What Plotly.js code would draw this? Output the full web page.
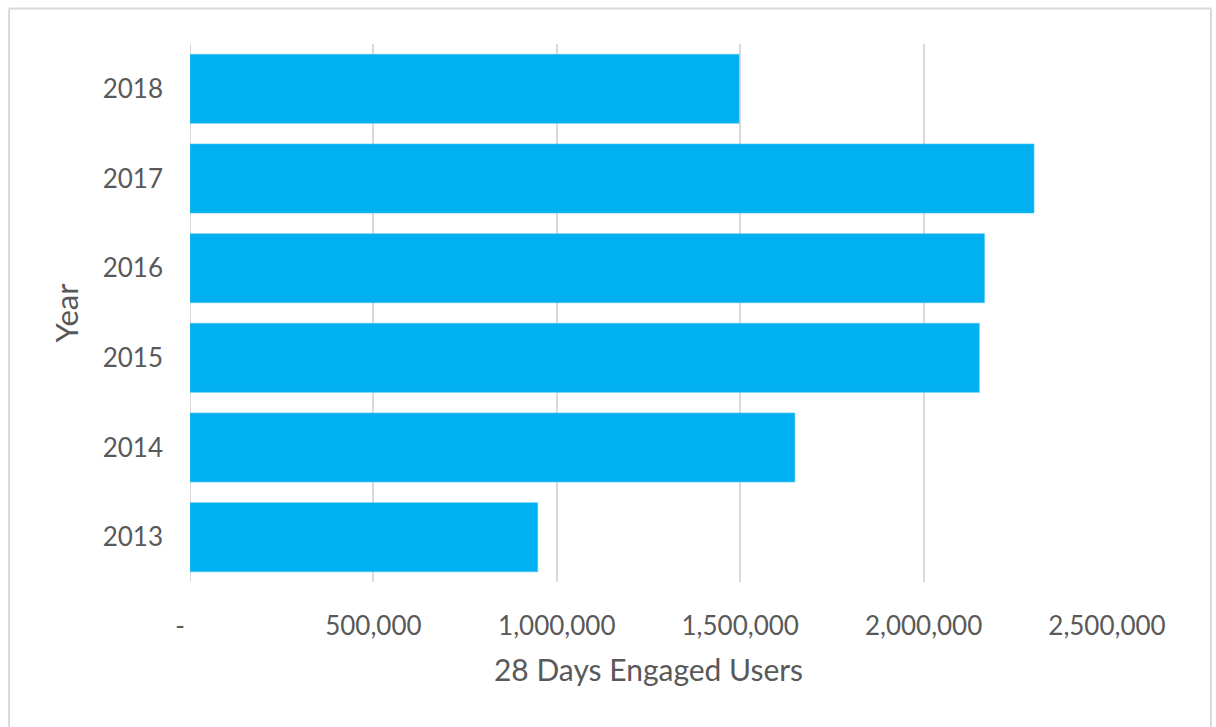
<!DOCTYPE html>
<html>
<head>
<meta charset="utf-8">
<script src="https://cdn.plot.ly/plotly-3.0.1.min.js"></script>
<style>
  html, body { margin: 0; padding: 0; background: #ffffff; }
  #chart { width: 1216px; height: 727px; }
</style>
</head>
<body>
<div id="chart"></div>
<script>
// Data
const years = ["2013", "2014", "2015", "2016", "2017", "2018"];
const engagedUsers = [948000, 1649000, 2152000, 2166000, 2301000, 1497000];

const xTickValues = [0, 500000, 1000000, 1500000, 2000000, 2500000];
const xTickLabels = ["-\u00a0\u00a0\u00a0", "500,000", "1,000,000", "1,500,000", "2,000,000", "2,500,000"];

const textColor = "#595959";
const fontFamily = "Lato, 'Open Sans', sans-serif";

const trace = {
  type: "bar",
  orientation: "h",
  y: years,
  x: engagedUsers,
  marker: { color: "#00B0F0", line: { color: "#4cc6f3", width: 0.6 } },
  hoverinfo: "x+y"
};

const W = 1216, H = 727;
const m = { l: 189.5, r: 109, t: 44, b: 145 };
const pw = W - m.l - m.r, ph = H - m.t - m.b;
const px = v => (v - m.l) / pw;
const py = v => (H - m.b - v) / ph;

const layout = {
  width: W,
  height: H,
  margin: m,
  paper_bgcolor: "#ffffff",
  plot_bgcolor: "#ffffff",
  showlegend: false,
  bargap: 0.23,
  font: { family: fontFamily, color: textColor, size: 26 },
  xaxis: {
    range: [0, 2500000],
    tickvals: xTickValues,
    ticktext: xTickLabels,
    showgrid: true,
    gridcolor: "#d9d9d9",
    gridwidth: 2,
    zeroline: false,
    showline: false,
    ticks: "",
    ticklabelstandoff: 26,
    tickfont: { family: fontFamily, size: 26, color: textColor },
    title: { text: "28 Days Engaged Users", font: { family: fontFamily, size: 30, color: textColor }, standoff: 19 },
    fixedrange: true
  },
  yaxis: {
    type: "category",
    categoryorder: "array",
    categoryarray: years,
    showgrid: false,
    zeroline: false,
    showline: false,
    ticks: "",
    ticklabelstandoff: 26,
    tickfont: { family: fontFamily, size: 26, color: textColor },
    title: { text: "Year", font: { family: fontFamily, size: 31, color: textColor }, standoff: 14 },
    fixedrange: true
  },
  shapes: [
    // zero gridline
    { type: "line", xref: "x", yref: "paper", x0: 0, x1: 0, y0: 0, y1: 1, line: { color: "#d9d9d9", width: 2 }, layer: "below" },
    // outer chart border (left, top, right)
    { type: "line", xref: "paper", yref: "paper", x0: px(8.5), x1: px(8.5), y0: py(8.5), y1: py(740), line: { color: "#d9d9d9", width: 2 } },
    { type: "line", xref: "paper", yref: "paper", x0: px(8.5), x1: px(1211), y0: py(8.5), y1: py(8.5), line: { color: "#d9d9d9", width: 2 } },
    { type: "line", xref: "paper", yref: "paper", x0: px(1211), x1: px(1211), y0: py(8.5), y1: py(740), line: { color: "#d9d9d9", width: 2 } }
  ]
};

Plotly.newPlot("chart", [trace], layout, { displayModeBar: false, staticPlot: true });
</script>
</body>
</html>
